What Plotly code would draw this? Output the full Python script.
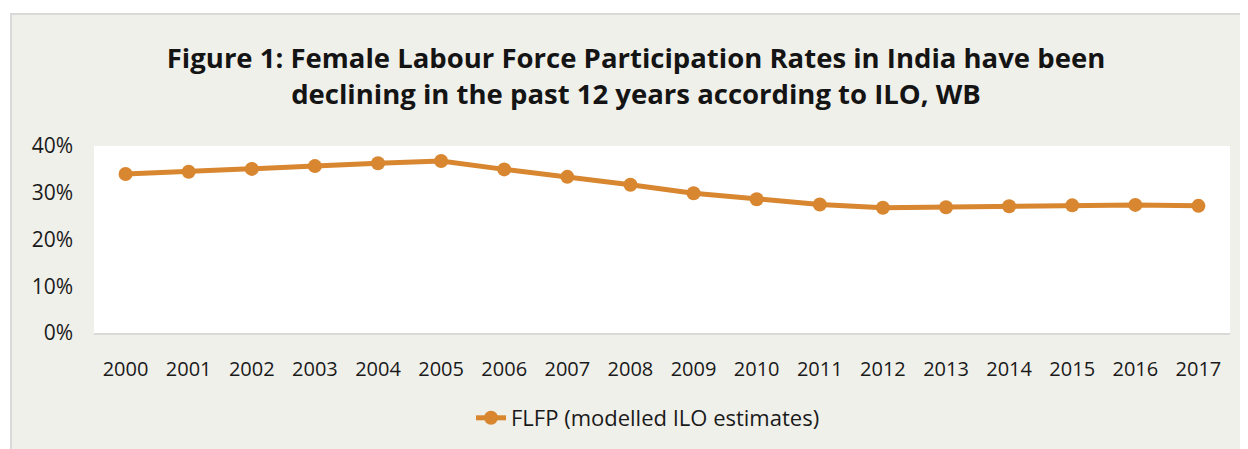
import plotly.graph_objects as go

years = [str(y) for y in range(2000, 2018)]
flfp = [34.0, 34.5, 35.1, 35.7, 36.3, 36.8, 35.0, 33.4, 31.7, 29.9, 28.6, 27.5, 26.8, 26.9, 27.1, 27.3, 27.4, 27.2]
y_ticks = [0, 10, 20, 30, 40]
y_labels = ["0%", "10%", "20%", "30%", "40%"]
series_name = "FLFP (modelled ILO estimates)"
title_text = "Figure 1: Female Labour Force Participation Rates in India have been<br>declining in the past 12 years according to ILO, WB"

OFF = 8  # page body margin
W, H = 1248 - OFF, 449 - OFF
# plot area in reference (screen) pixels: x 94..1230, y 146..333
L, R, T, B = 94 - OFF, 1248 - 1230, 146 - OFF, 449 - 333
pw, ph = W - L - R, H - T - B
def px(x): return (x - OFF - L) / pw
def py(y): return (H - B - (y - OFF)) / ph

color = "#D8862F"
font = "'Open Sans', Lato, sans-serif"

fig = go.Figure()
fig.add_trace(go.Scatter(
    x=years, y=flfp, mode="lines+markers", name=series_name,
    line=dict(color=color, width=5),
    marker=dict(color=color, size=14),
))

fig.update_layout(
    width=W, height=H,
    margin=dict(l=L, r=R, t=T, b=B, autoexpand=False),
    paper_bgcolor="white",
    plot_bgcolor="white",
    font=dict(family=font, color="#1a1a1a"),
    title=dict(text=title_text, x=px(636), xref="paper", xanchor="center",
               y=1 - (76 - 2 * OFF) / H, yref="container", yanchor="middle",
               font=dict(size=27.5, family=font, color="#141414", weight="bold")),
    showlegend=True,
    legend=dict(orientation="h", x=px(648), xanchor="center", y=py(418), yanchor="middle",
                font=dict(size=22), bgcolor="rgba(0,0,0,0)"),
    shapes=[dict(type="rect", xref="paper", yref="paper", layer="below",
                 x0=px(11), x1=px(1256), y0=py(460), y1=py(14),
                 fillcolor="#f0f0eb", line=dict(color="#d9d9d9", width=2)),
            dict(type="rect", xref="paper", yref="paper", layer="below",
                 x0=0, x1=1, y0=0, y1=1, fillcolor="white", line=dict(width=0))],
)
fig.update_xaxes(type="category", range=[-0.5, len(years) - 0.5], showgrid=False,
                 showline=True, linecolor="#d9d9d9", linewidth=2,
                 tickfont=dict(size=20), ticks="", ticklabelstandoff=17, fixedrange=True,
                 automargin=False)
fig.update_yaxes(range=[0, 40], tickvals=y_ticks, ticktext=y_labels, showgrid=False,
                 showline=False, zeroline=False, tickfont=dict(size=21), ticks="",
                 ticklabelstandoff=20, fixedrange=True, automargin=False)

fig.write_html("out.html")
